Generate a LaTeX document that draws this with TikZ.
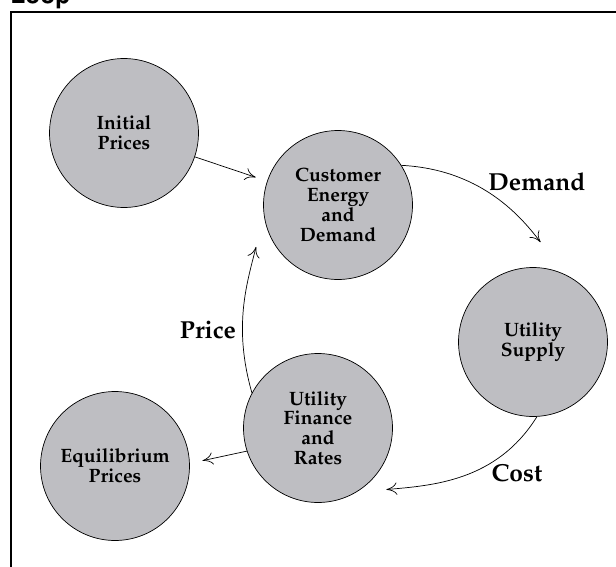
\documentclass[tikz,border=0pt]{standalone}
\usepackage[T1]{fontenc}
\renewcommand{\rmdefault}{ppl}
\usepackage{tikz}
\usepackage{xcolor}
\definecolor{nodegray}{RGB}{190,190,194}
\usetikzlibrary{arrows.meta}
\tikzset{>={To[length=6pt,width=7pt]}}

\begin{document}
\begin{tikzpicture}[x=0.02cm, y=0.02cm,
    stage/.style={circle, draw, thin, fill=nodegray, minimum size=2.98cm, inner sep=0pt,
      align=center, font=\fontsize{11}{11.3}\selectfont\bfseries},
    flow/.style={->, thin, shorten >=#1},
    flowlabel/.style={font=\fontsize{14}{16}\selectfont\bfseries}]
  \useasboundingbox (0,0) rectangle (616,566);
  \node[anchor=base west, inner sep=0pt, font=\fontfamily{phv}\fontsize{14}{16}\selectfont\bfseries] (title) at (10,562) {Loop};
  \draw[line width=1.4pt] (11,-5) -- (11,554) -- (625,554);
  % the five stages
  \node[stage] (initial) at (124,433) {Initial\\Prices};
  \node[stage] (customer) at (338,361) {Customer\\Energy\\and\\Demand};
  \node[stage] (supply) at (533,224) {Utility\\Supply};
  \node[stage] (finance) at (318,138) {Utility\\Finance\\and\\Rates};
  \node[stage] (equilibrium) at (115,100) {Equilibrium\\Prices};
  % connectors
  \draw[flow=0.24cm] (initial) -- (customer);
  \draw[flow=0.8cm] (customer.32) to[out=-3, in=127] (supply.65);
  \draw[flow=0.6cm] (supply.273) to[out=238, in=5] (finance.301);
  \draw[flow=0.65cm] (finance.152) to[out=106, in=256] (customer.188);
  \draw[flow=0.26cm] (finance.198) -- (equilibrium.2);
  \node[flowlabel] (demand) at (537,384) {Demand};
  \node[flowlabel] (price) at (208,236) {Price};
  \node[flowlabel] (cost) at (517,93) {Cost};
\end{tikzpicture}
\end{document}
